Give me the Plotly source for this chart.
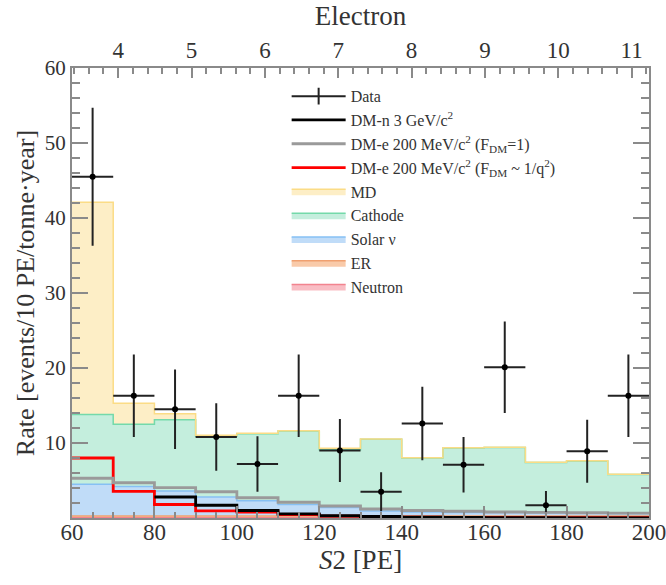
import numpy as np
import plotly.graph_objects as go

# ---------------- data ----------------
s2_edges = [60, 70, 80, 90, 100, 110, 120, 130, 140, 150, 160, 170, 180, 190, 200]

data_rate = [45.5, 16.3, 14.5, 10.8, 7.2, 16.3, 9.0, 3.5, 12.6, 7.1, 20.1, 1.7, 8.9, 16.3]
data_err = [9.2, 5.5, 5.3, 4.5, 3.7, 5.5, 4.2, 2.6, 4.9, 3.7, 6.1, 1.9, 4.2, 5.5]

bkg_neutron = [0.03, 0.03, 0.03, 0.03, 0.03, 0.03, 0.03, 0.03, 0.03, 0.03, 0.03, 0.03, 0.03, 0.03]
bkg_er = [0.25, 0.25, 0.25, 0.25, 0.25, 0.25, 0.25, 0.25, 0.25, 0.25, 0.25, 0.25, 0.25, 0.25]
bkg_solar = [4.22, 3.92, 3.32, 2.52, 2.02, 1.52, 1.12, 0.67, 0.52, 0.47, 0.47, 0.42, 0.37, 0.32]
bkg_cathode = [9.3, 8.3, 9.5, 8.1, 8.95, 9.8, 7.7, 9.55, 7.2, 8.6, 8.65, 6.7, 6.95, 5.2]
bkg_md = [28.3, 2.8, 0.8, 0.15, 0.05, 0.05, 0.2, 0.02, 0.02, 0.02, 0.02, 0.02, 0.02, 0.02]

sig_dmn_3gev = [None, None, 2.8, 1.7, 1.0, 0.55, 0.3, 0.2, 0.12, 0.08, 0.05, 0.04, 0.03, 0.02]
sig_dme_f1 = [5.3, 4.7, 4.05, 3.5, 2.7, 2.1, 1.6, 1.2, 1.0, 0.9, 0.8, 0.75, 0.7, 0.65]
sig_dme_fq2 = [8.0, 3.55, 1.8, 0.95, 0.8, 0.45, 0.25, 0.12, 0.1, 0.08, 0.07, 0.06, 0.05, 0.05]

electron_n = [4, 5, 6, 7, 8, 9, 10, 11]
electron_gain = 17.8  # PE per extracted electron
electron_minor_n = [round(3.2 + 0.2 * k, 1) for k in range(41)]

# ---------------- helpers ----------------
edges = np.array(s2_edges, dtype=float)
centers = 0.5 * (edges[:-1] + edges[1:])
halfw = 0.5 * np.diff(edges)


def step_y(vals):
    v = [np.nan if x is None else x for x in vals]
    return v + [v[-1]]


serif = "Liberation Serif, Times New Roman, serif"
txt = "#333333"
axc = "#8a8a8a"

fig = go.Figure()

layers = [
    ("Neutron", bkg_neutron, "rgba(248,178,186,0.85)", "#f2848f"),
    ("ER", bkg_er, "rgba(248,196,160,0.9)", "#f0a070"),
    ("Solar ν", bkg_solar, "rgba(192,220,248,1)", "#86c0f4"),
    ("Cathode", bkg_cathode, "rgba(196,238,221,1)", "#74d9aa"),
    ("MD", bkg_md, "rgba(253,238,198,1)", "#fbdc86"),
]
cum = np.zeros(len(centers))
ranks = {"MD": 5, "Cathode": 6, "Solar ν": 7, "ER": 8, "Neutron": 9}
for i, (name, vals, fc, lc) in enumerate(layers):
    cum = cum + np.array(vals, dtype=float)
    fig.add_trace(go.Scatter(
        x=edges, y=step_y(list(cum)), name=name, mode="lines",
        line=dict(shape="hv", color=lc, width=1.5),
        fill="tozeroy" if i == 0 else "tonexty", fillcolor=fc,
        legendrank=ranks[name], hoverinfo="skip"))

sigs = [
    ("DM-n 3 GeV/c<sup>2</sup>", sig_dmn_3gev, "#000000", 2),
    ("DM-e 200 MeV/c<sup>2</sup> (F<sub>DM</sub>=1)", sig_dme_f1, "#9a9a9a", 3),
    ("DM-e 200 MeV/c<sup>2</sup> (F<sub>DM</sub> ~ 1/q<sup>2</sup>)", sig_dme_fq2, "#ff0000", 4),
]
for name, vals, col, rk in sorted(sigs, key=lambda s: -s[3]):
    fig.add_trace(go.Scatter(
        x=edges, y=step_y(vals), name=name, mode="lines",
        line=dict(shape="hv", color=col, width=2.8),
        legendrank=rk, connectgaps=False, hoverinfo="skip"))

# data points
fig.add_trace(go.Scatter(
    x=centers, y=data_rate, mode="markers", showlegend=False,
    marker=dict(color="black", size=6),
    error_x=dict(type="data", array=halfw, color="#222222", thickness=2, width=0),
    error_y=dict(type="data", array=data_err, color="#222222", thickness=2, width=0)))
# legend entry for data
fig.add_trace(go.Scatter(
    x=[None], y=[None], mode="lines+markers", name="Data", legendrank=1,
    line=dict(color="#222222", width=2),
    marker=dict(symbol="line-ns", size=12, line=dict(color="#222222", width=2))))

# invisible trace to activate top axis
fig.add_trace(go.Scatter(x=[edges[0], edges[-1]], y=[None, None], xaxis="x2",
                         showlegend=False, hoverinfo="skip", mode="lines"))

fig.update_layout(
    width=666, height=585,
    margin=dict(l=72, r=17, t=68, b=67),
    paper_bgcolor="white", plot_bgcolor="white",
    font=dict(family=serif, color=txt, size=22),
    showlegend=True,
    legend=dict(x=0.372, y=0.975, xanchor="left", yanchor="top", traceorder="normal",
                bgcolor="rgba(0,0,0,0)", font=dict(family=serif, size=16, color=txt),
                itemwidth=54, tracegroupgap=0),
    xaxis=dict(range=[60, 200], showline=True, linecolor=axc, linewidth=2, mirror=False,
               automargin=False, ticklabeloverflow="allow", ticklabelstandoff=-8,
               ticks="inside", ticklen=12, tickwidth=1.5, tickcolor=axc,
               dtick=20, tick0=60, showgrid=False, zeroline=False,
               minor=dict(dtick=5, tick0=60, ticks="inside", ticklen=6, tickcolor=axc, tickwidth=1.5),
               tickfont=dict(family=serif, size=23, color=txt),
               title=dict(text="<i>S</i>2 [PE]", font=dict(family=serif, size=27, color=txt), standoff=2)),
    xaxis2=dict(range=[60, 200], overlaying="x", side="top", anchor="y",
                automargin=False, ticklabeloverflow="allow", ticklabelstandoff=-1,
                showline=True, linecolor=axc, linewidth=2,
                tickmode="array", tickvals=[n * electron_gain for n in electron_n],
                ticktext=[str(n) for n in electron_n],
                ticks="inside", ticklen=10, tickwidth=1.5, tickcolor=axc,
                minor=dict(tickmode="array",
                           tickvals=[n * electron_gain for n in electron_minor_n if 60 < n * electron_gain < 200],
                           ticks="inside", ticklen=6, tickcolor=axc, tickwidth=1.5),
                showgrid=False, zeroline=False,
                tickfont=dict(family=serif, size=23, color=txt),
                title=dict(text="Electron", font=dict(family=serif, size=27, color=txt), standoff=4)),
    yaxis=dict(range=[0, 60], showline=True, linecolor=axc, linewidth=2, mirror="ticks",
               automargin=False, ticklabeloverflow="allow", ticklabelstandoff=0,
               tickmode="array", tickvals=[10, 20, 30, 40, 50, 60],
               ticks="inside", ticklen=16, tickwidth=1.5, tickcolor=axc,
               minor=dict(tickmode="linear", tick0=0, dtick=2, ticks="inside", ticklen=8,
                          tickcolor=axc, tickwidth=1.5),
               showgrid=False, zeroline=False,
               tickfont=dict(family=serif, size=21, color=txt),
               title=dict(text="Rate [events/10 PE/tonne·year]",
                          font=dict(family=serif, size=26, color=txt), standoff=3)),
)

# remove the default 8 px page margin so the 666x585 figure fills the window exactly
fig.write_html("out.html", config={"displayModeBar": False},
               post_script="document.body.style.margin='0';document.body.style.overflow='hidden';")
